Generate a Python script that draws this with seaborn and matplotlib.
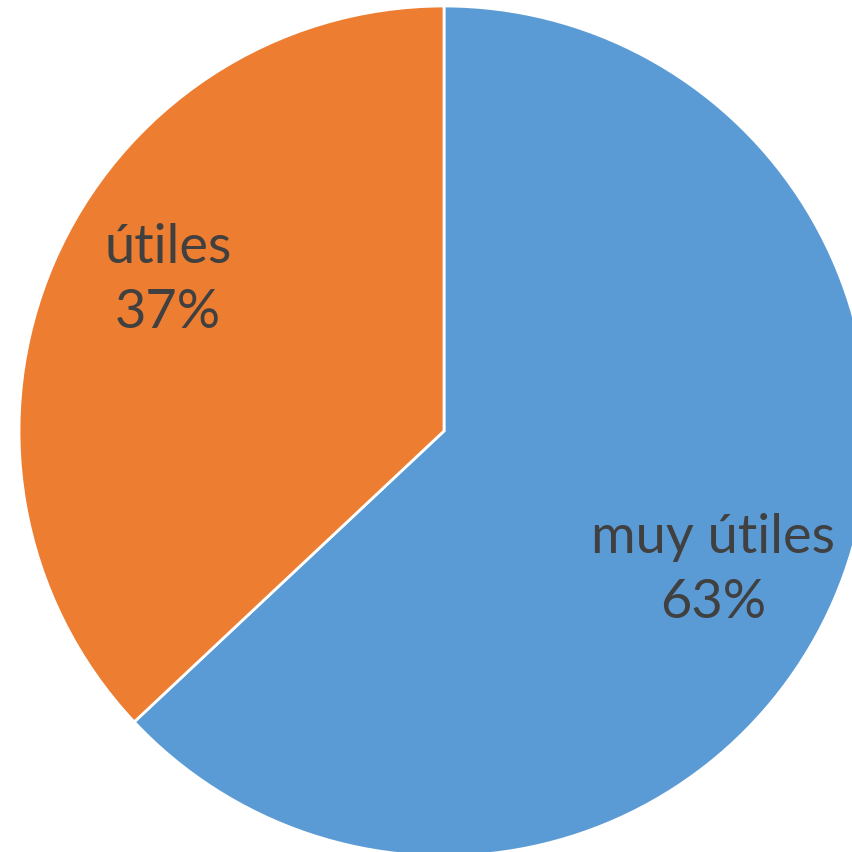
import matplotlib
matplotlib.use("Agg")
import matplotlib.pyplot as plt
import seaborn as sns

# data
categories = ["muy útiles", "útiles"]
shares = [63, 37]
colors = ["#5B9BD5", "#ED7D31"]

sns.set_theme(style="white")
plt.rcParams['font.family'] = ['Lato', 'DejaVu Sans']

W = 853
fig = plt.figure(figsize=(W / 100, W / 100), dpi=100)
fig.patch.set_facecolor("white")

# pie center (444, 432) px from top-left, radius ~425 px
cx, cy, r = 444, 432, 425
ax = fig.add_axes([(cx - r) / W, (W - cy - r) / W, 2 * r / W, 2 * r / W])

wedges, _ = ax.pie(shares, colors=colors, startangle=90, counterclock=False,
                   radius=1.0, center=(0, 0),
                   wedgeprops=dict(edgecolor="white", linewidth=2))
for w in wedges:
    w.set_clip_on(False)

ax.set_xlim(-1, 1)
ax.set_ylim(-1, 1)
ax.set_aspect("equal")
ax.axis("off")

label_pos = [(0.633, -0.325), (-0.649, 0.358)]
for cat, val, (x, y) in zip(categories, shares, label_pos):
    ax.text(x, y, f"{cat}\n{val}%", ha="center", va="center",
            fontsize=39, color="#404040", linespacing=1.4)

fig.savefig("out.png", dpi=100)
